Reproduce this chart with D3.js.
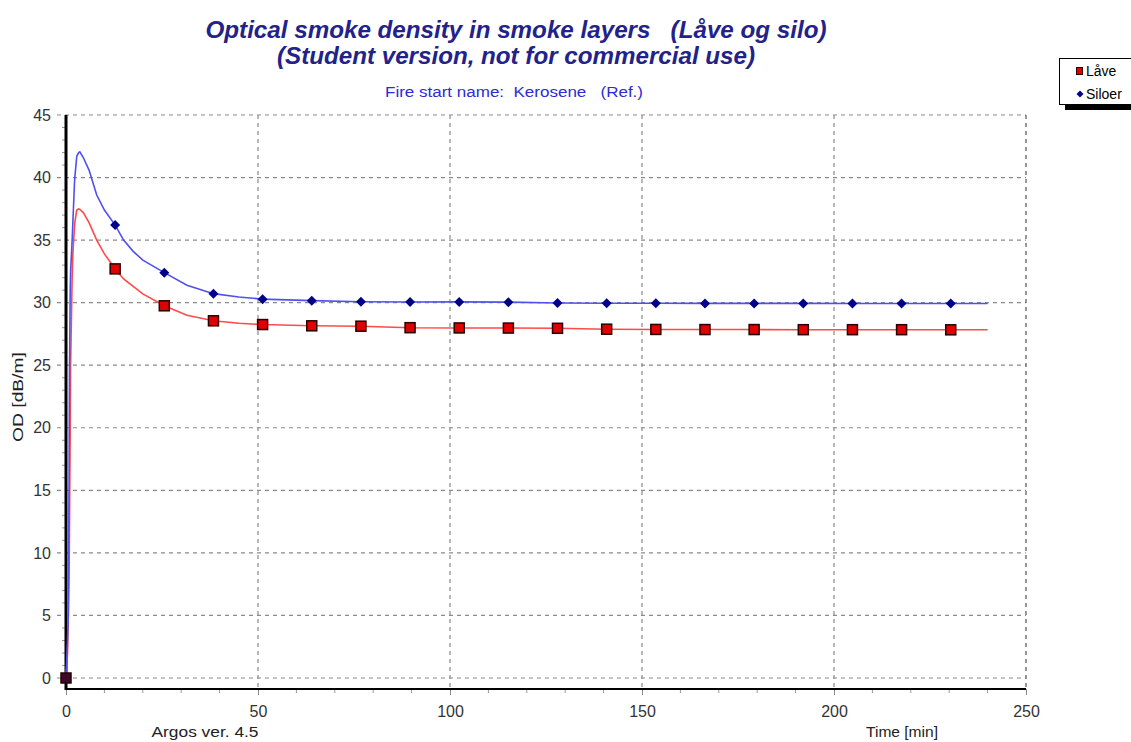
<!DOCTYPE html>
<html>
<head>
<meta charset="utf-8">
<script src="https://cdn.jsdelivr.net/npm/d3@7"></script>
<style>
  html, body { margin: 0; padding: 0; background: #fff; }
  svg { display: block; font-family: "Liberation Sans", Arial, sans-serif; }
  text { white-space: pre; }
</style>
</head>
<body>
<svg id="chart" width="1131" height="742"></svg>
<script>
// Time axis of the simulation, minutes
const timeMin = [0, 0.4, 0.6, 0.8, 0.9, 1.1, 1.2, 1.6, 1.8, 2.2, 2.3, 2.8, 3.3, 3.6, 4.5, 6, 8, 10,
  12.8, 15, 17.5, 20, 25.6, 31.5, 38.4, 45, 51.2, 64, 76.8, 89.6, 102.4, 115.2, 128, 140.8,
  153.6, 166.4, 179.2, 192, 204.8, 217.6, 230.4, 240];

// Optical density in the smoke layer, dB/m
const laveOD = [0, 2, 5, 8, 12, 20, 25, 32, 34, 36, 36.4, 37.4, 37.5, 37.45, 37.2, 36.4, 35.0, 33.9,
  32.7, 31.9, 31.3, 30.7, 29.75, 29.0, 28.55, 28.35, 28.25, 28.15, 28.12, 28.0, 27.98, 27.97, 27.95, 27.88,
  27.86, 27.85, 27.85, 27.84, 27.84, 27.84, 27.83, 27.83];

const siloerOD = [0, 3, 5, 16, 24, 31, 32.5, 35, 36.5, 39.5, 40, 41.7, 42.0, 42.05, 41.6, 40.6, 38.6, 37.4,
  36.2, 35.0, 34.1, 33.4, 32.4, 31.4, 30.72, 30.45, 30.28, 30.16, 30.07, 30.05, 30.06, 30.04, 29.97, 29.95,
  29.95, 29.94, 29.94, 29.94, 29.93, 29.93, 29.93, 29.93];

// Symbols are placed every 12.8 min
const markerTimes = [0, 12.8, 25.6, 38.4, 51.2, 64, 76.8, 89.6, 102.4, 115.2, 128, 140.8,
  153.6, 166.4, 179.2, 192, 204.8, 217.6, 230.4];

const xTicks = [0, 50, 100, 150, 200, 250];
const yTicks = [0, 5, 10, 15, 20, 25, 30, 35, 40, 45];

const seriesNames = ["Låve", "Siloer"];

const svg = d3.select("#chart");
const plot = { left: 66, right: 1026, top: 115, bottom: 689 };

const x = d3.scaleLinear().domain([0, 250]).range([plot.left, plot.right]);
const y = d3.scaleLinear().domain([-0.88, 45]).range([plot.bottom, plot.top]);

// Helper for text stretched to a fixed run length (the wide bitmap font of the original program)
function label(px, py, str, size, len, opts = {}) {
  const t = svg.append("text").attr("x", px).attr("y", py).attr("text-anchor", opts.anchor || "middle")
    .attr("font-size", size).attr("fill", opts.fill || "#222")
    .attr("textLength", len).attr("lengthAdjust", "spacingAndGlyphs").text(str);
  if (opts.bold) t.attr("font-weight", "bold");
  if (opts.italic) t.attr("font-style", "italic");
  if (opts.transform) t.attr("transform", opts.transform);
  return t;
}

// Titles
label(516, 38, "Optical smoke density in smoke layers   (Låve og silo)", 24, 621,
  { bold: true, italic: true, fill: "#22228a" });
label(516, 64, "(Student version, not for commercial use)", 24, 478,
  { bold: true, italic: true, fill: "#22228a" });
label(514, 97, "Fire start name:  Kerosene   (Ref.)", 14, 258, { fill: "#2b2bd6" });

// Grid
const grid = svg.append("g").attr("stroke", "#8a8a8a").attr("stroke-width", 1.2).attr("stroke-dasharray", "4,4");
yTicks.forEach(v => {
  grid.append("line").attr("x1", plot.left - 9).attr("x2", plot.right)
    .attr("y1", y(v)).attr("y2", y(v));
});
xTicks.filter(v => v > 0).forEach(v => {
  grid.append("line").attr("x1", x(v)).attr("x2", x(v))
    .attr("y1", plot.top).attr("y2", plot.bottom)
    .attr("stroke", v === 250 ? "#555" : "#8a8a8a");
});

// Y axis
const yAxis = d3.axisLeft(y).tickValues(yTicks).tickSize(0).tickPadding(15);
const gy = svg.append("g").attr("transform", `translate(${plot.left},0)`).call(yAxis);
gy.select(".domain").remove();
gy.selectAll("text").attr("font-size", 16).attr("fill", "#333").attr("font-family", "Liberation Sans, Arial, sans-serif");
const yMinor = d3.range(0, 46, 1).filter(v => v % 5 !== 0);
svg.append("g").selectAll("line").data(yMinor).join("line")
  .attr("x1", plot.left - 4).attr("x2", plot.left).attr("y1", d => y(d)).attr("y2", d => y(d))
  .attr("stroke", "#999").attr("stroke-width", 1);

// X axis
const xAxis = d3.axisBottom(x).tickValues(xTicks).tickSize(6).tickPadding(11);
const gx = svg.append("g").attr("transform", `translate(0,${plot.bottom})`).call(xAxis);
gx.select(".domain").remove();
gx.selectAll(".tick line").attr("stroke", "#888");
gx.selectAll("text").attr("font-size", 16).attr("fill", "#333").attr("font-family", "Liberation Sans, Arial, sans-serif");
const xMinor = d3.range(10, 250, 10).filter(v => v % 50 !== 0);
svg.append("g").selectAll("line").data(xMinor).join("line")
  .attr("x1", d => x(d)).attr("x2", d => x(d)).attr("y1", plot.bottom).attr("y2", plot.bottom + 4)
  .attr("stroke", "#999");

// Axis lines
svg.append("line").attr("x1", plot.left).attr("x2", plot.left).attr("y1", plot.top).attr("y2", plot.bottom + 1)
  .attr("stroke", "#000").attr("stroke-width", 3);
svg.append("line").attr("x1", plot.left).attr("x2", plot.right).attr("y1", plot.bottom).attr("y2", plot.bottom)
  .attr("stroke", "#000").attr("stroke-width", 2);

// Axis captions
label(0, 0, "OD [dB/m]", 14, 90, { transform: "translate(23,397) rotate(-90)" });
label(205, 737, "Argos ver. 4.5", 15, 107);
label(902, 737, "Time [min]", 15, 72);

// Series
const line = d3.line().x(d => x(d[0])).y(d => y(d[1]));
const lave = timeMin.map((t, i) => [t, laveOD[i]]);
const siloer = timeMin.map((t, i) => [t, siloerOD[i]]);

svg.append("path").datum(lave).attr("d", line).attr("fill", "none")
  .attr("stroke", "#ff4a4a").attr("stroke-width", 1.6);
svg.append("path").datum(siloer).attr("d", line).attr("fill", "none")
  .attr("stroke", "#5050f0").attr("stroke-width", 1.6);

const valueAt = (series, t) => series[timeMin.indexOf(t)];

// Red squares for Låve
svg.append("g").selectAll("rect").data(markerTimes).join("rect")
  .attr("x", d => x(d) - 5).attr("y", d => y(valueAt(laveOD, d)) - 5)
  .attr("width", 10).attr("height", 10)
  .attr("fill", d => d === 0 ? "#3a0a2a" : "#e00000").attr("stroke", "#2a0000").attr("stroke-width", 1.5);

// Navy diamonds (squares turned 45°) for Siloer
const diamondPath = r => `M0,${-r}L${r},0L0,${r}L${-r},0Z`;
svg.append("g").selectAll("path").data(markerTimes.filter(t => t > 0)).join("path")
  .attr("d", diamondPath(5))
  .attr("transform", d => `translate(${x(d)},${y(valueAt(siloerOD, d))})`)
  .attr("fill", "#00008b");

// Legend
const lg = svg.append("g");
lg.append("rect").attr("x", 1065).attr("y", 63).attr("width", 80).attr("height", 47).attr("fill", "#000");
lg.append("rect").attr("x", 1059.5).attr("y", 58.5).attr("width", 80).attr("height", 46)
  .attr("fill", "#fff").attr("stroke", "#000").attr("stroke-width", 1);
lg.append("rect").attr("x", 1076.5).attr("y", 67.5).attr("width", 6).attr("height", 7)
  .attr("fill", "#e00000").attr("stroke", "#300").attr("stroke-width", 1);
lg.append("path").attr("d", diamondPath(3.5))
  .attr("transform", "translate(1080,94)").attr("fill", "#00008b");
lg.append("text").attr("x", 1086).attr("y", 76).attr("font-size", 14).attr("fill", "#000").text(seriesNames[0]);
lg.append("text").attr("x", 1086).attr("y", 99).attr("font-size", 14).attr("fill", "#000").text(seriesNames[1]);
</script>
</body>
</html>
